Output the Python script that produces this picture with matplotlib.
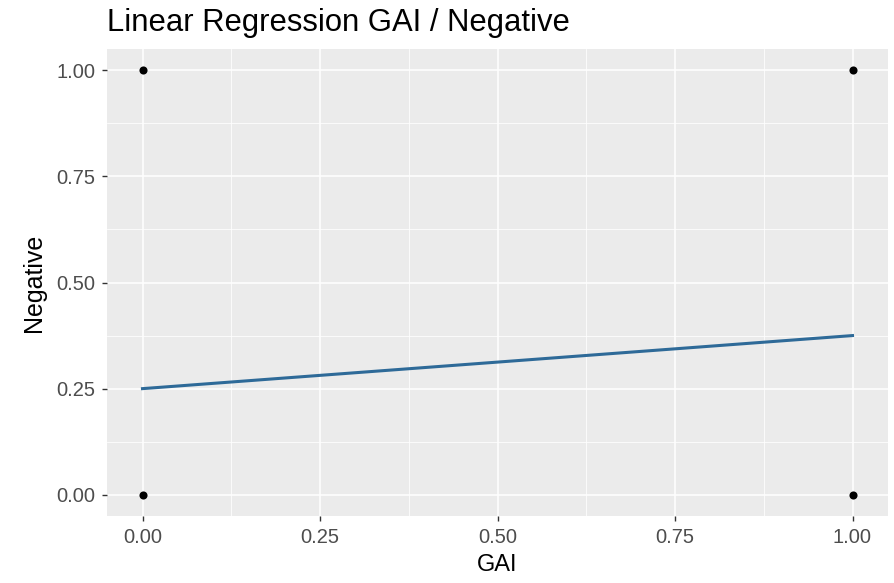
import matplotlib
matplotlib.use("Agg")
import matplotlib.pyplot as plt
import numpy as np

plt.rcParams['font.family'] = ['Liberation Sans', 'DejaVu Sans']

# data
gai = [0, 0, 1, 1]
negative = [0, 1, 0, 1]
fit_x = [0.0, 1.0]
fit_y = [0.25, 0.375]
ticks = [0.00, 0.25, 0.50, 0.75, 1.00]
tick_labels = ["0.00", "0.25", "0.50", "0.75", "1.00"]
minor_ticks = [0.125, 0.375, 0.625, 0.875]

fig = plt.figure(figsize=(8.94, 5.83), dpi=100)
ax = fig.add_axes([107/894, 1 - 516/583, (888-107)/894, (516-49)/583])
ax.set_facecolor('#EBEBEB')
for s in ax.spines.values():
    s.set_visible(False)

ax.set_xlim(-0.05, 1.05)
ax.set_ylim(-0.05, 1.05)
ax.set_xticks(ticks)
ax.set_xticklabels(tick_labels)
ax.set_yticks(ticks)
ax.set_yticklabels(tick_labels)
ax.set_xticks(minor_ticks, minor=True)
ax.set_yticks(minor_ticks, minor=True)
ax.grid(True, which='major', color='white', linewidth=1.1)
ax.grid(True, which='minor', color='white', linewidth=0.55)
ax.set_axisbelow(True)
ax.tick_params(which='major', length=3.6, width=1, color='#333333',
               labelsize=14.5, labelcolor='#4D4D4D')
ax.tick_params(axis='y', pad=5)
ax.tick_params(axis='x', pad=5)
ax.tick_params(which='minor', length=0)

ax.plot(fit_x, fit_y, color='#2E6A98', linewidth=2.2, zorder=3)
ax.scatter(gai, negative, s=34, color='black', zorder=4, linewidths=0)

ax.set_xlabel('GAI', fontsize=17, color='black', labelpad=5)
ax.set_ylabel('Negative', fontsize=18, color='black', labelpad=7)
fig.text(107/894, 1 - 31/583, 'Linear Regression GAI / Negative', fontsize=22.3,
         color='black', ha='left', va='baseline')

fig.savefig('out.png', dpi=100)
